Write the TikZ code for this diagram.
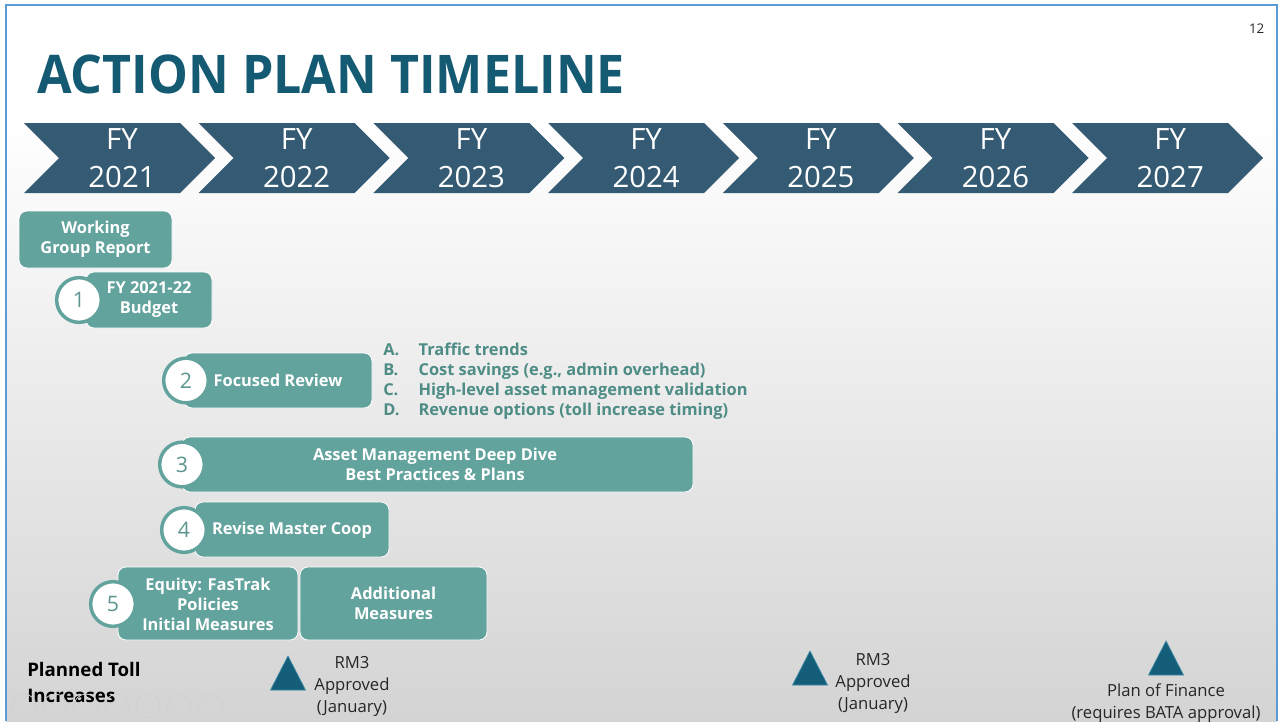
\documentclass[tikz,border=0pt]{standalone}
\usepackage{fontspec}
\setmainfont{Open Sans}
\usetikzlibrary{calc}
\definecolor{chevblue}{HTML}{345B73}
\definecolor{boxteal}{HTML}{63A39D}
\definecolor{titleteal}{HTML}{145A72}
\definecolor{listteal}{HTML}{4E8C86}
\definecolor{numteal}{HTML}{5E9590}
\definecolor{framebl}{HTML}{5B9BD5}
\definecolor{triblue}{HTML}{155E79}
\definecolor{triedge}{HTML}{3A89A4}
\tikzset{
	tealbox/.style={fill=boxteal, draw=white, line width=0.6pt, rounded corners=6pt},
	boxtext/.style={text=white, align=center, font=\bfseries\fontsize{12.3}{15}\selectfont},
	numcirc/.style={circle, fill=white, draw=boxteal, line width=2.6pt, minimum size=33.5pt, inner sep=0pt, text=numteal, font=\fontsize{16}{16}\selectfont},
	chevtext/.style={text=white, align=center, font=\fontsize{22}{28.5}\selectfont},
	milestext/.style={text=black!85, align=center, font=\fontsize{12.5}{16.5}\selectfont}
}
\def\milestone(#1,#2){\draw[triedge, fill=triblue, line width=0.5pt] (#1-17.5,#2+34) -- (#1,#2) -- (#1+17.5,#2+34) -- cycle;}

\begin{document}
\begin{tikzpicture}[x=0.75pt, y=-0.75pt]
				\useasboundingbox (0,0) rectangle (1281,721);
				\fill[white] (0,0) rectangle (1281,721);
				\shade[top color=white, bottom color=black!17] (6,120) rectangle (1277,721);
				\draw[framebl, line width=1.4pt] (6,721) -- (6,5) -- (1277,5) -- (1277,721);
				
				\node[anchor=base east, font=\fontsize{10}{10}\selectfont, text=black!85] (page) at (1269,33) {12};
				\node[anchor=base west, inner sep=0pt, text=titleteal, font=\bfseries\fontsize{40}{40}\selectfont] (title) at (37,93) {\scalebox{0.94}[1]{ACTION PLAN TIMELINE}};
				
				\foreach \i/\yr in {0/2021,1/2022,2/2023,3/2024,4/2025,5/2026,6/2027}{
					\pgfmathsetmacro\xl{24+174.7*\i}
					\fill[chevblue] (\xl,123) -- ++(156,0) -- ++(35,35) -- ++(-35,35) -- ++(-156,0) -- ++(35,-35) -- cycle;
					\node[chevtext] (fy\i) at (\xl+98,158) {FY\\\yr};
				}
				
				\draw[tealbox] (19,211) rectangle (172,268);
				\node[boxtext] (wgr) at (95.5,239.5) {Working\\Group Report};
				
				\draw[tealbox] (86,272) rectangle (212,328);
				\node[numcirc] (n1) at (79,300) {1};
				\node[boxtext] (budget) at (149,300) {FY 2021-22\\Budget};
				
				\draw[tealbox] (184,353) rectangle (372,408);
				\node[numcirc] (n2) at (186,380.5) {2};
				\node[boxtext] (review) at (278,380.5) {Focused Review};
				
				\node[anchor=north west, inner sep=0pt, align=left, text=listteal, font=\bfseries\fontsize{12.3}{15}\selectfont] (topics) at (383,343) {\makebox[26.5pt][l]{A.}Traffic trends\\\makebox[26.5pt][l]{B.}Cost savings (e.g., admin overhead)\\\makebox[26.5pt][l]{C.}High-level asset management validation\\\makebox[26.5pt][l]{D.}Revenue options (toll increase timing)};
				
				\draw[tealbox] (182,437) rectangle (693,492);
				\node[numcirc] (n3) at (182,464.5) {3};
				\node[boxtext] (asset) at (435,464.5) {Asset Management Deep Dive\\Best Practices \& Plans};
				
				\draw[tealbox] (195,502) rectangle (389,557);
				\node[numcirc] (n4) at (184,530) {4};
				\node[boxtext] (coop) at (292,530) {Revise Master Coop};
				
				\draw[tealbox] (118,567) rectangle (298,640);
				\draw[tealbox] (300,567) rectangle (487,640);
				\node[numcirc] (n5) at (113,604) {5};
				\node[boxtext] (equity) at (208,604) {Equity: FasTrak\\Policies\\Initial Measures};
				\node[boxtext] (addl) at (393.5,603.5) {Additional\\Measures};
				
				\node[anchor=west, align=left, inner sep=0pt, text=black, font=\bfseries\fontsize{14}{19.5}\selectfont] (toll) at (27,682) {Planned Toll\\Increases};
				
				\milestone(288,656)
				\node[milestext] (rm3a) at (352,686) {RM3\\Approved\\(January)};
				\milestone(810,651)
				\node[milestext] (rm3b) at (873,683) {RM3\\Approved\\(January)};
				\milestone(1166,641)
				\node[milestext] (pof) at (1166,703) {Plan of Finance\\(requires BATA approval)};
				
				\foreach \k in {0,...,6}
					\draw[black!18, line width=0.6pt] (24+31*\k,706) circle (12);
			\end{tikzpicture}
\end{document}
